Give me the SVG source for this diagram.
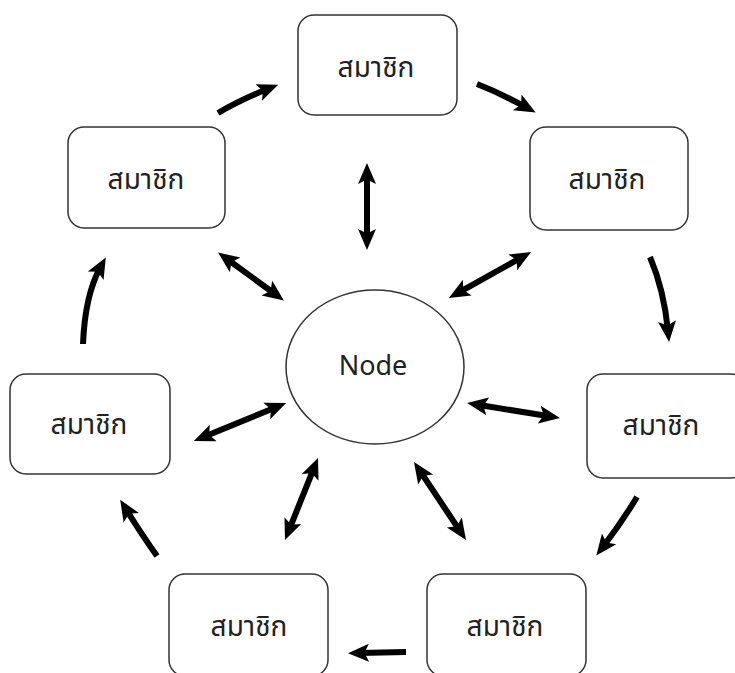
<svg xmlns="http://www.w3.org/2000/svg" width="735" height="673" viewBox="0 0 735 673">
  <style>
    .box { fill: #ffffff; stroke: #333333; stroke-width: 1.5; }
    .lbl { font-family: "Noto Sans Thai", "Tahoma", "Noto Sans", "DejaVu Sans", sans-serif; font-size: 28px; fill: #222222; text-anchor: middle; dominant-baseline: central; }
    .link { fill: none; stroke: #000000; stroke-width: 6; }
    .one { marker-end: url(#head); }
    .two { marker-start: url(#head); marker-end: url(#head); }
  </style>
  <defs>
    <marker id="head" markerUnits="userSpaceOnUse" markerWidth="24" markerHeight="22" viewBox="0 0 24 22" refX="10" refY="11" orient="auto-start-reverse">
      <path d="M0,2 L21,11 L0,20 L4.5,11 Z" fill="#000000"/>
    </marker>
  </defs>

  <rect width="735" height="673" fill="#ffffff"/>

  <!-- hub -->
  <g id="hub">
    <ellipse class="box" cx="375" cy="367" rx="89" ry="77"/>
    <text x="373" y="364" font-family="'Noto Sans', 'Liberation Sans', sans-serif" font-size="27" fill="#222222" text-anchor="middle" dominant-baseline="central">Node</text>
  </g>

  <!-- members -->
  <g id="member-top">
    <rect class="box" x="298" y="15" width="159" height="100" rx="16"/>
    <text class="lbl" x="376" y="68">สมาชิก</text>
  </g>
  <g id="member-top-left">
    <rect class="box" x="68" y="127" width="157" height="101" rx="16"/>
    <text class="lbl" x="146" y="180">สมาชิก</text>
  </g>
  <g id="member-top-right">
    <rect class="box" x="530" y="127" width="158" height="103" rx="16"/>
    <text class="lbl" x="607" y="180">สมาชิก</text>
  </g>
  <g id="member-left">
    <rect class="box" x="10" y="374" width="160" height="100" rx="16"/>
    <text class="lbl" x="89" y="425">สมาชิก</text>
  </g>
  <g id="member-right">
    <rect class="box" x="587" y="374" width="160" height="104" rx="16"/>
    <text class="lbl" x="661" y="426">สมาชิก</text>
  </g>
  <g id="member-bottom-left">
    <rect class="box" x="169" y="574" width="159" height="102" rx="16"/>
    <text class="lbl" x="249" y="627">สมาชิก</text>
  </g>
  <g id="member-bottom-right">
    <rect class="box" x="427" y="574" width="159" height="102" rx="16"/>
    <text class="lbl" x="505" y="627">สมาชิก</text>
  </g>

  <!-- connectors -->
  <g id="connectors">
    <!-- hub to members, both ways -->
    <line class="link two" x1="367" y1="174" x2="367" y2="239"/>
    <line class="link two" x1="227" y1="259" x2="275" y2="294"/>
    <line class="link two" x1="458.5" y1="292.6" x2="521.5" y2="257.4"/>
    <line class="link two" x1="204" y1="436.8" x2="276" y2="407.2"/>
    <line class="link two" x1="477.9" y1="404.8" x2="549.1" y2="416.2"/>
    <line class="link two" x1="313.9" y1="468.2" x2="289.1" y2="529.8"/>
    <line class="link two" x1="420.1" y1="471.2" x2="459.9" y2="530.8"/>

    <!-- ring, clockwise -->
    <path class="link one" d="M218,113 Q240,100 268,88.8"/>
    <path class="link one" d="M477,84 Q500,93 526,107.2"/>
    <path class="link one" d="M650,257 Q664,290 668,331"/>
    <path class="link one" d="M637,497 Q622,522 603,546.8"/>
    <path class="link one" d="M406,652 L359,653"/>
    <path class="link one" d="M157,556 Q142,535 126,509.2"/>
    <path class="link one" d="M83,344 Q85,295 100.5,267"/>
  </g>
</svg>
